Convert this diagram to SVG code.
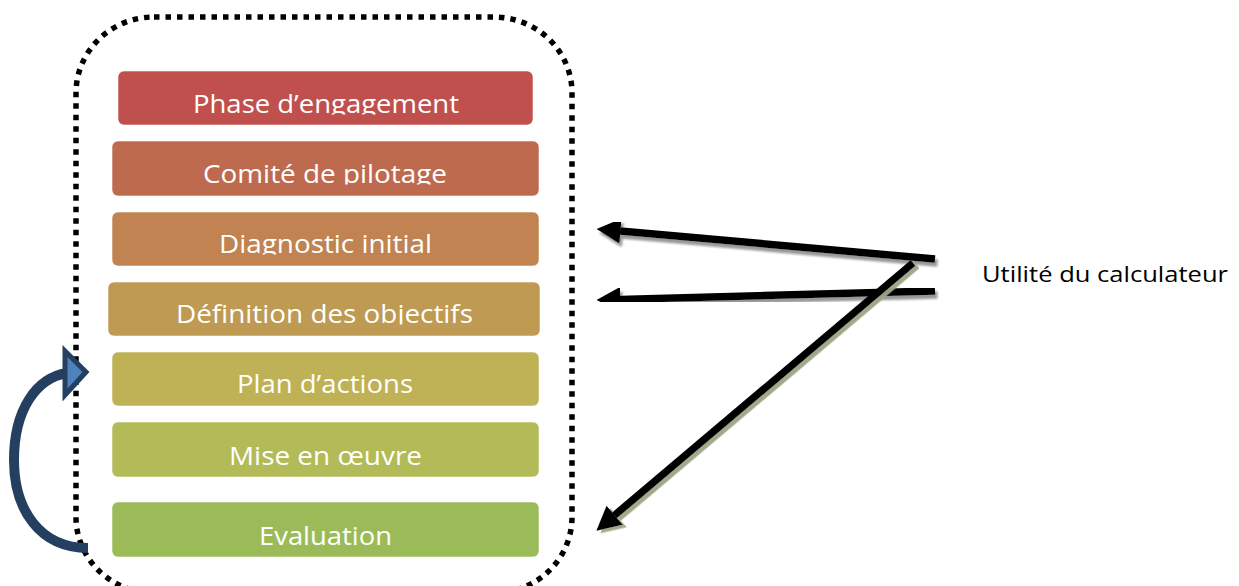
<svg xmlns="http://www.w3.org/2000/svg" width="1239" height="586" viewBox="0 0 1239 586">
<style>
.box{stroke:#ffffff;stroke-opacity:0.55;stroke-width:1}
.lbl{font-family:"Open Sans","Noto Sans",sans-serif;font-size:26px;fill:#ffffff}
.side{font-family:"Open Sans","Noto Sans",sans-serif;font-size:21px;fill:#000000}
.arr{stroke:#000000;stroke-width:7.5;fill:none;marker-end:url(#head)}
</style>
<defs>
<marker id="head" markerUnits="userSpaceOnUse" markerWidth="24" markerHeight="25" viewBox="0 0 24 25" refX="0.5" refY="12.5" orient="auto">
<path d="M0,0 L24,12.5 L0,25 Z" fill="#000000"/>
</marker>
<filter id="shGray" x="-10%" y="-30%" width="120%" height="160%">
<feDropShadow dx="2.5" dy="4" stdDeviation="1.2" flood-color="#7f7f7f" flood-opacity="0.8"/>
</filter>
<filter id="shOlive" x="-10%" y="-10%" width="120%" height="120%">
<feDropShadow dx="4" dy="2.5" stdDeviation="0.6" flood-color="#9aa684" flood-opacity="0.95"/>
</filter>
<clipPath id="c1"><rect x="110" y="60" width="440" height="54.5"/></clipPath>
<clipPath id="c2"><rect x="110" y="130" width="440" height="54.5"/></clipPath>
<clipPath id="c3"><rect x="110" y="200" width="440" height="54.5"/></clipPath>
<clipPath id="c4"><rect x="100" y="270" width="450" height="54.5"/></clipPath>
<clipPath id="c5"><rect x="110" y="340" width="440" height="54.5"/></clipPath>
<clipPath id="c6"><rect x="110" y="410" width="440" height="57"/></clipPath>
<clipPath id="c7"><rect x="110" y="490" width="440" height="57"/></clipPath>
</defs>
<rect width="1239" height="586" fill="#ffffff"/>

<g id="frame">
<rect x="76" y="17" width="496" height="576" rx="78" ry="76" fill="none" stroke="#000000" stroke-width="5.5" stroke-dasharray="5.5 6"/>
</g>

<g id="n1">
<rect class="box" x="118" y="71" width="415" height="54" rx="6" fill="#C0504D"/>
<text class="lbl" x="193" y="113" textLength="266" lengthAdjust="spacingAndGlyphs" clip-path="url(#c1)">Phase d’engagement</text>
</g>
<g id="n2">
<rect class="box" x="112" y="141" width="427" height="55" rx="6" fill="#BE6A4F"/>
<text class="lbl" x="203" y="183" textLength="244" lengthAdjust="spacingAndGlyphs" clip-path="url(#c2)">Comité de pilotage</text>
</g>
<g id="n3">
<rect class="box" x="112" y="212" width="427" height="54" rx="6" fill="#C08351"/>
<text class="lbl" x="219" y="253" textLength="213" lengthAdjust="spacingAndGlyphs" clip-path="url(#c3)">Diagnostic initial</text>
</g>
<g id="n4">
<rect class="box" x="108" y="282" width="432" height="54" rx="6" fill="#BF9A53"/>
<text class="lbl" x="176" y="323" textLength="297" lengthAdjust="spacingAndGlyphs" clip-path="url(#c4)">Définition des objectifs</text>
</g>
<g id="n5">
<rect class="box" x="112" y="352" width="427" height="54" rx="6" fill="#BFB156"/>
<text class="lbl" x="237" y="393" textLength="176" lengthAdjust="spacingAndGlyphs" clip-path="url(#c5)">Plan d’actions</text>
</g>
<g id="n6">
<rect class="box" x="112" y="422" width="427" height="55" rx="6" fill="#B3BB58"/>
<text class="lbl" x="229" y="465" textLength="193" lengthAdjust="spacingAndGlyphs" clip-path="url(#c6)">Mise en œuvre</text>
</g>
<g id="n7">
<rect class="box" x="112" y="502" width="427" height="55" rx="6" fill="#9BBB59"/>
<text class="lbl" x="259" y="545" textLength="133" lengthAdjust="spacingAndGlyphs" clip-path="url(#c7)">Evaluation</text>
</g>

<g id="label">
<text class="side" x="982" y="282" textLength="246" lengthAdjust="spacingAndGlyphs">Utilité du calculateur</text>
</g>

<g id="connectors">
<g id="loop">
<path d="M 88 548 C 40 548, 14 510, 14 460 C 14 410, 36 378, 67 373" fill="none" stroke="#243F60" stroke-width="10"/>
<polygon points="65,351 65,395 86,372" fill="#4F81BD" stroke="#243F60" stroke-width="5" stroke-linejoin="miter"/>
</g>
<g filter="url(#shGray)">
<line class="arr" x1="935" y1="259" x2="620" y2="231"/>
</g>
<g filter="url(#shGray)">
<line class="arr" x1="935" y1="291" x2="620" y2="299.4"/>
</g>
<g filter="url(#shOlive)">
<line class="arr" x1="913" y1="263" x2="614.3" y2="515.5"/>
</g>
</g>
</svg>
